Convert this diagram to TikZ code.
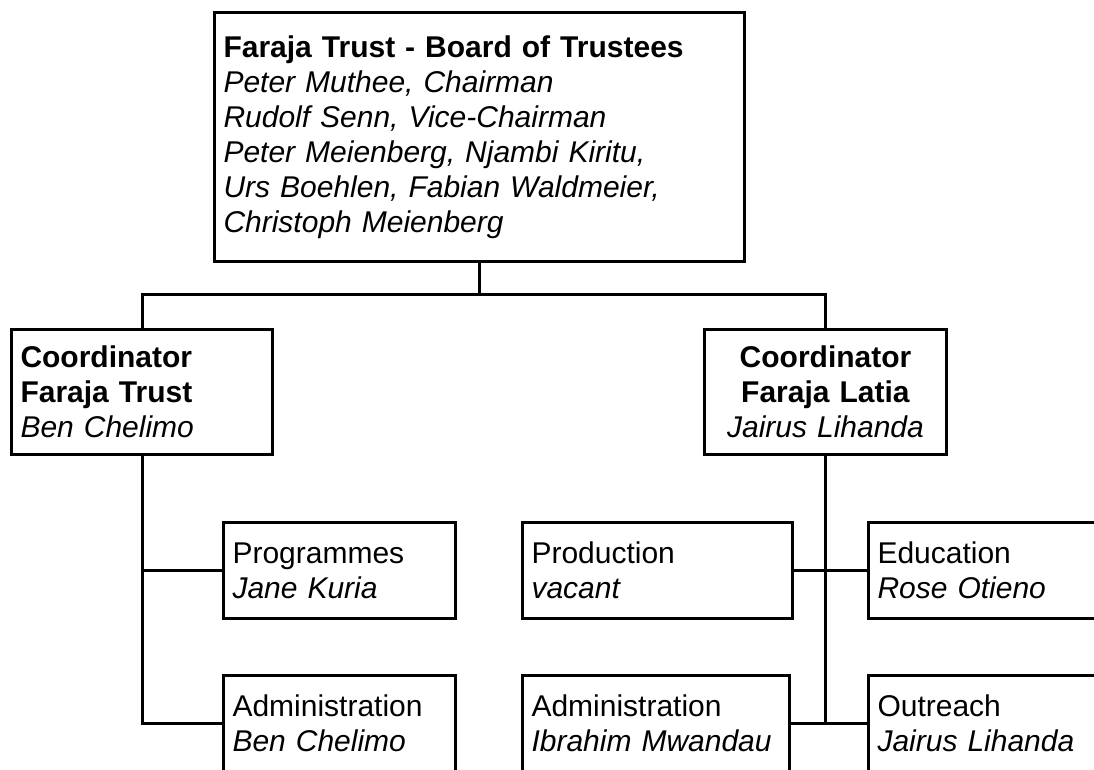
\documentclass[tikz,border=0pt]{standalone}
\usepackage{fontspec}
\setmainfont{Liberation Sans}
\begin{document}
\begin{tikzpicture}[x=1pt,y=-1pt,
  box/.style={draw=black, line width=3pt, rectangle, anchor=north west,
    inner xsep=9pt, inner ysep=0pt, align=left,
    font=\fontsize{30}{35}\selectfont},
  conn/.style={draw=black, line width=3pt}]
\useasboundingbox (0,0) rectangle (1094,769);
\clip (0,0) rectangle (1094,769);
\fill[white] (0,0) rectangle (1094,769);

\node[box, minimum width=530pt, minimum height=249pt, text width=512pt] (top) at (213,11)
  {\textbf{Faraja Trust - Board of Trustees}\\
   \textit{Peter Muthee, Chairman}\\
   \textit{Rudolf Senn, Vice-Chairman}\\
   \textit{Peter Meienberg, Njambi Kiritu,}\\
   \textit{Urs Boehlen, Fabian Waldmeier,}\\
   \textit{Christoph Meienberg}};

\node[box, minimum width=261pt, minimum height=125pt, text width=243pt] (lc) at (10,328)
  {\textbf{Coordinator}\\ \textbf{Faraja Trust}\\ \textit{Ben Chelimo}};

\node[box, minimum width=242pt, minimum height=125pt, text width=224pt, align=center] (rc) at (703,328)
  {\textbf{Coordinator}\\ \textbf{Faraja Latia}\\ \textit{Jairus Lihanda}};

\node[box, minimum width=232pt, minimum height=96pt, text width=214pt] (prog) at (222,521)
  {Programmes\\ \textit{Jane Kuria}};
\node[box, minimum width=232pt, minimum height=96pt, text width=214pt] (adml) at (222,674)
  {Administration\\ \textit{Ben Chelimo}};

\node[box, minimum width=270pt, minimum height=96pt, text width=252pt] (prod) at (521,521)
  {Production\\ \textit{vacant}};
\node[box, minimum width=267pt, minimum height=96pt, text width=249pt] (admr) at (521,674)
  {Administration\\ \textit{Ibrahim Mwandau}};

\node[box, minimum width=270pt, minimum height=96pt, text width=252pt] (edu) at (867,521)
  {Education\\ \textit{Rose Otieno}};
\node[box, minimum width=270pt, minimum height=96pt, text width=252pt] (outr) at (867,674)
  {Outreach\\ \textit{Jairus Lihanda}};

\coordinate (j) at (top.south |- 0,294);
\draw[conn] (top.south) -- (j);
\draw[conn] (lc.north) |- (j) -| (rc.north);

\draw[conn] (lc.south) |- (adml.west);
\draw[conn] (prog.west) -- (prog.west -| lc.south);

\draw[conn] (rc.south) -- (rc.south |- outr.west);
\draw[conn] (prod.east) -- (edu.west);
\draw[conn] (admr.east) -- (outr.west);
\end{tikzpicture}
\end{document}
